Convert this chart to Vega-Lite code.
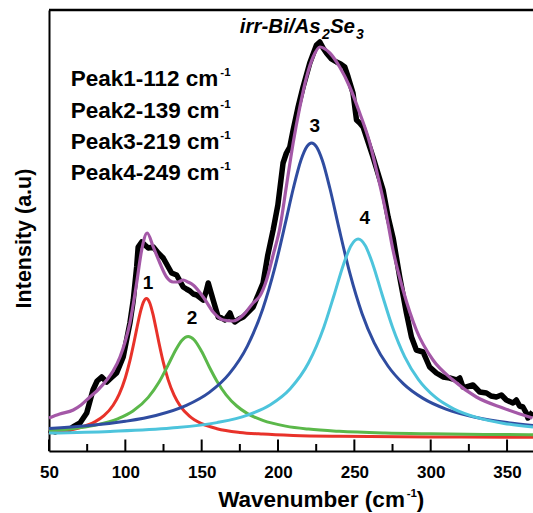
{
  "$schema": "https://vega.github.io/schema/vega-lite/v6.json",
  "width": 484,
  "height": 441,
  "autosize": "none",
  "padding": {"left": 49, "top": 10, "right": 0, "bottom": 62},
  "background": "white",
  "config": {"view": {"stroke": null}, "font": "Liberation Sans"},
  "datasets": {
    "raw": [
      {"x":50,"y":21},{"x":54,"y":19},{"x":58,"y":21},{"x":62,"y":20},{"x":65.7,"y":24},{"x":70.3,"y":28},{"x":74.7,"y":38},{"x":78.8,"y":61},{"x":81.5,"y":70},{"x":84.5,"y":74},{"x":87.8,"y":69},{"x":90.6,"y":73},{"x":94.3,"y":78},{"x":98.6,"y":94},{"x":103,"y":128},{"x":105.2,"y":151},{"x":107.4,"y":184},{"x":108.4,"y":204},{"x":110.7,"y":209},{"x":112.8,"y":206},{"x":115,"y":203},{"x":118.3,"y":204},{"x":121.5,"y":198},{"x":124.8,"y":193},{"x":128.1,"y":184},{"x":130.3,"y":178},{"x":133.6,"y":176},{"x":137.9,"y":164},{"x":140,"y":162},{"x":142.3,"y":160},{"x":144.5,"y":157},{"x":146.7,"y":156},{"x":151,"y":151},{"x":153,"y":160},{"x":154.3,"y":168},{"x":155.8,"y":160},{"x":157.5,"y":151},{"x":160.8,"y":134},{"x":163,"y":133},{"x":165.2,"y":131},{"x":168.5,"y":138},{"x":170,"y":132},{"x":171.7,"y":129},{"x":174.5,"y":132},{"x":177.2,"y":134},{"x":183.7,"y":144},{"x":190.2,"y":168},{"x":193.3,"y":196},{"x":196.8,"y":221},{"x":199.9,"y":246},{"x":203.3,"y":288},{"x":205.5,"y":298},{"x":207.7,"y":304},{"x":209.9,"y":321},{"x":213,"y":343},{"x":216.4,"y":364},{"x":220.8,"y":388},{"x":225.2,"y":406},{"x":227.4,"y":409},{"x":229.5,"y":403},{"x":231.7,"y":398},{"x":235,"y":392},{"x":238.3,"y":389},{"x":241,"y":387},{"x":243.7,"y":384},{"x":245.9,"y":374},{"x":249.1,"y":358},{"x":251.4,"y":331},{"x":253.5,"y":328},{"x":255.7,"y":324},{"x":262.2,"y":294},{"x":268.8,"y":261},{"x":272.1,"y":234},{"x":275.5,"y":212},{"x":279.7,"y":174},{"x":284.1,"y":138},{"x":287.4,"y":114},{"x":290.6,"y":101},{"x":295,"y":99},{"x":299.3,"y":84},{"x":303.7,"y":78},{"x":308.1,"y":74},{"x":312.4,"y":73},{"x":316.8,"y":71},{"x":319,"y":73},{"x":321.1,"y":64},{"x":323.4,"y":64},{"x":327.7,"y":66},{"x":332.1,"y":59},{"x":336.5,"y":58},{"x":339.5,"y":55},{"x":343,"y":54},{"x":346.3,"y":56},{"x":349.5,"y":51},{"x":353.9,"y":48},{"x":356.1,"y":51},{"x":358.2,"y":45},{"x":360.4,"y":44},{"x":362.6,"y":38},{"x":363.7,"y":33},{"x":366.7,"y":39}
    ],
    "fit": [
      {"x":50,"y":33},{"x":57,"y":37},{"x":65.9,"y":41},{"x":71,"y":46},{"x":76.8,"y":54},{"x":82,"y":61},{"x":87.8,"y":71},{"x":92,"y":80},{"x":96.5,"y":94},{"x":100,"y":110},{"x":103,"y":128},{"x":107.4,"y":168},{"x":110.7,"y":201},{"x":114.3,"y":218},{"x":118.3,"y":204},{"x":122.6,"y":188},{"x":127,"y":174},{"x":131.3,"y":169},{"x":134.5,"y":169},{"x":137.9,"y":171},{"x":141,"y":169},{"x":144.4,"y":166},{"x":151,"y":154},{"x":157.5,"y":139},{"x":164.1,"y":131},{"x":170.6,"y":130},{"x":177.2,"y":136},{"x":183.7,"y":148},{"x":188.1,"y":155},{"x":192.5,"y":171},{"x":196.8,"y":196},{"x":201.2,"y":223},{"x":205.6,"y":266},{"x":209.9,"y":308},{"x":214.3,"y":344},{"x":218.7,"y":374},{"x":223,"y":394},{"x":227.4,"y":404},{"x":233.9,"y":398},{"x":240.4,"y":384},{"x":247,"y":364},{"x":253.5,"y":338},{"x":260.1,"y":308},{"x":265.5,"y":274},{"x":271,"y":236},{"x":275.3,"y":201},{"x":281.9,"y":161},{"x":290.6,"y":121},{"x":301.5,"y":91},{"x":314.6,"y":71},{"x":329.9,"y":54},{"x":347.3,"y":43},{"x":366.7,"y":33}
    ],
    "p1": [
      {"x":50,"y":18.2},{"x":60,"y":20.1},{"x":70,"y":23.2},{"x":80,"y":29.1},{"x":86,"y":35.3},{"x":92,"y":45.8},{"x":96,"y":56.9},{"x":100,"y":73.3},{"x":103,"y":90.3},{"x":106,"y":111.2},{"x":108,"y":126.2},{"x":110,"y":139.8},{"x":112,"y":149.4},{"x":113.8,"y":152.5},{"x":116,"y":148},{"x":118,"y":137.3},{"x":120,"y":123.2},{"x":122,"y":108.3},{"x":125,"y":87.8},{"x":128,"y":71.4},{"x":132,"y":55.6},{"x":136,"y":44.9},{"x":142,"y":34.8},{"x":150,"y":27.3},{"x":160,"y":22.3},{"x":175,"y":18.6},{"x":190,"y":16.9},{"x":210,"y":15.6},{"x":240,"y":14.7},{"x":280,"y":14.2},{"x":320,"y":14},{"x":367,"y":13.8}
    ],
    "p2": [
      {"x":50,"y":20.4},{"x":65,"y":22.3},{"x":80,"y":25.7},{"x":95,"y":32.1},{"x":105,"y":39.9},{"x":115,"y":53.6},{"x":122,"y":68.7},{"x":128,"y":85.9},{"x":133,"y":101.1},{"x":137,"y":110.6},{"x":141.2,"y":114.5},{"x":145,"y":111.3},{"x":150,"y":99.4},{"x":155,"y":84},{"x":160,"y":69.8},{"x":166,"y":56.2},{"x":173,"y":45},{"x":180,"y":37.4},{"x":190,"y":30.6},{"x":205,"y":24.9},{"x":220,"y":21.9},{"x":240,"y":19.7},{"x":270,"y":18},{"x":300,"y":17.2},{"x":335,"y":16.6},{"x":367,"y":16.3}
    ],
    "p3": [
      {"x":50,"y":22.6},{"x":75,"y":25.3},{"x":100,"y":29.7},{"x":120,"y":35.5},{"x":140,"y":45.6},{"x":155,"y":58.6},{"x":168,"y":77.1},{"x":180,"y":105.2},{"x":190,"y":142.1},{"x":198,"y":183.9},{"x":205,"y":229.1},{"x":210,"y":262.5},{"x":215,"y":290.8},{"x":219,"y":304.7},{"x":222,"y":308},{"x":225,"y":304.7},{"x":229,"y":290.8},{"x":234,"y":262.5},{"x":240,"y":222.3},{"x":247,"y":178.1},{"x":255,"y":137.6},{"x":263,"y":108.2},{"x":272,"y":85},{"x":282,"y":67.4},{"x":295,"y":52.6},{"x":310,"y":41.9},{"x":330,"y":33.5},{"x":350,"y":28.4},{"x":367,"y":25.5}
    ],
    "p4": [
      {"x":50,"y":18},{"x":90,"y":19.6},{"x":130,"y":22.9},{"x":160,"y":28.4},{"x":180,"y":35.9},{"x":195,"y":46.3},{"x":208,"y":62.3},{"x":220,"y":88.2},{"x":230,"y":123.8},{"x":237,"y":157.3},{"x":243,"y":187.1},{"x":248,"y":205.8},{"x":252.5,"y":212},{"x":257,"y":205.8},{"x":262,"y":187.1},{"x":268,"y":157.3},{"x":275,"y":123.8},{"x":283,"y":94.2},{"x":292,"y":71.4},{"x":303,"y":53.8},{"x":315,"y":42.2},{"x":330,"y":33.6},{"x":348,"y":27.6},{"x":367,"y":24}
    ],
    "ticksmajor": [{"x":50},{"x":100},{"x":150},{"x":200},{"x":250},{"x":300},{"x":350}],
    "ticksminor": [{"x":75},{"x":125},{"x":175},{"x":225},{"x":275},{"x":325}],
    "topframe": [{"x":50,"y":441},{"x":367,"y":441}],
    "peaktext": [
      {"x":64.2,"y":365,"t":"Peak1-112 cm"},
      {"x":64.2,"y":333.3,"t":"Peak2-139 cm"},
      {"x":64.2,"y":301.7,"t":"Peak3-219 cm"},
      {"x":64.2,"y":271,"t":"Peak4-249 cm"}
    ],
    "sup": [
      {"x":162.2,"y":375,"t":"-1"},
      {"x":162.2,"y":343.3,"t":"-1"},
      {"x":162.2,"y":311.7,"t":"-1"},
      {"x":162.2,"y":281,"t":"-1"},
      {"x":284.3,"y":-45.7,"t":"-1"}
    ],
    "xtitle": [
      {"x":160.8,"y":-56.3,"t":"Wavenumber (cm"},
      {"x":290.8,"y":-56.3,"t":")"}
    ],
    "nums": [
      {"x":114.8,"y":168,"t":"1"},
      {"x":143.6,"y":133,"t":"2"},
      {"x":224.1,"y":325,"t":"3"},
      {"x":256.8,"y":233,"t":"4"}
    ],
    "titlemain": [
      {"x":175.0,"y":418,"t":"irr-Bi/As"},
      {"x":234.0,"y":418,"t":"Se"}
    ],
    "titlesub": [
      {"x":228.8,"y":412,"t":"2"},
      {"x":251.1,"y":412,"t":"3"}
    ]
  },
  "layer": [
    {
      "data": {"name": "raw"},
      "mark": {"type": "line", "color": "#000000", "strokeWidth": 5.5, "interpolate": "linear", "strokeJoin": "round"},
      "encoding": {
        "x": {"field": "x", "type": "quantitative",
              "scale": {"domain": [50, 367], "nice": false, "zero": false},
              "axis": {"values": [50,100,150,200,250,300,350], "title": null, "grid": false, "ticks": false,
                       "domainColor": "#000000", "domainWidth": 2, "labelFontSize": 17, "labelFontWeight": "bold",
                       "labelColor": "#000000", "labelPadding": 13, "labelFont": "Liberation Sans", "labelFlush": false}},
        "y": {"field": "y", "type": "quantitative",
              "scale": {"domain": [0, 441], "nice": false, "zero": false},
              "axis": {"title": "Intensity (a.u)", "labels": false, "ticks": false, "grid": false,
                       "domainColor": "#000000", "domainWidth": 2, "titleFontSize": 21.5, "titleFontWeight": "bold",
                       "titleColor": "#000000", "titlePadding": 14, "titleFont": "Liberation Sans", "titleY": 228}}
      }
    },
    {
      "data": {"name": "p1"},
      "mark": {"type": "line", "color": "#e8322a", "strokeWidth": 3, "interpolate": "monotone"},
      "encoding": {"x": {"field": "x", "type": "quantitative"}, "y": {"field": "y", "type": "quantitative"}}
    },
    {
      "data": {"name": "p2"},
      "mark": {"type": "line", "color": "#5bb84a", "strokeWidth": 3, "interpolate": "monotone"},
      "encoding": {"x": {"field": "x", "type": "quantitative"}, "y": {"field": "y", "type": "quantitative"}}
    },
    {
      "data": {"name": "p3"},
      "mark": {"type": "line", "color": "#2f4ca0", "strokeWidth": 3, "interpolate": "monotone"},
      "encoding": {"x": {"field": "x", "type": "quantitative"}, "y": {"field": "y", "type": "quantitative"}}
    },
    {
      "data": {"name": "p4"},
      "mark": {"type": "line", "color": "#4dc4dc", "strokeWidth": 3, "interpolate": "monotone"},
      "encoding": {"x": {"field": "x", "type": "quantitative"}, "y": {"field": "y", "type": "quantitative"}}
    },
    {
      "data": {"name": "fit"},
      "mark": {"type": "line", "color": "#a458a7", "strokeWidth": 3.2, "interpolate": "monotone"},
      "encoding": {"x": {"field": "x", "type": "quantitative"}, "y": {"field": "y", "type": "quantitative"}}
    },
    {
      "data": {"name": "ticksmajor"},
      "mark": {"type": "rule", "color": "#000000", "strokeWidth": 2},
      "encoding": {"x": {"field": "x", "type": "quantitative"}, "y": {"datum": 0}, "y2": {"datum": 11.5}}
    },
    {
      "data": {"name": "ticksminor"},
      "mark": {"type": "rule", "color": "#000000", "strokeWidth": 2},
      "encoding": {"x": {"field": "x", "type": "quantitative"}, "y": {"datum": 0}, "y2": {"datum": 7}}
    },
    {
      "data": {"name": "topframe"},
      "mark": {"type": "line", "color": "#000000", "strokeWidth": 2.5, "clip": false},
      "encoding": {"x": {"field": "x", "type": "quantitative"}, "y": {"field": "y", "type": "quantitative"}}
    },
    {
      "data": {"name": "peaktext"},
      "mark": {"type": "text", "align": "left", "baseline": "alphabetic", "fontSize": 22.5, "fontWeight": "bold", "font": "Liberation Sans", "color": "#000000"},
      "encoding": {"x": {"field": "x", "type": "quantitative"}, "y": {"field": "y", "type": "quantitative"}, "text": {"field": "t"}}
    },
    {
      "data": {"name": "sup"},
      "mark": {"type": "text", "align": "left", "baseline": "alphabetic", "fontSize": 11.5, "fontWeight": "bold", "font": "Liberation Sans", "color": "#000000"},
      "encoding": {"x": {"field": "x", "type": "quantitative"}, "y": {"field": "y", "type": "quantitative"}, "text": {"field": "t"}}
    },
    {
      "data": {"name": "xtitle"},
      "mark": {"type": "text", "align": "left", "baseline": "alphabetic", "fontSize": 22.5, "fontWeight": "bold", "font": "Liberation Sans", "color": "#000000"},
      "encoding": {"x": {"field": "x", "type": "quantitative"}, "y": {"field": "y", "type": "quantitative"}, "text": {"field": "t"}}
    },
    {
      "data": {"name": "nums"},
      "mark": {"type": "text", "align": "center", "baseline": "middle", "fontSize": 19, "fontWeight": "bold", "font": "Liberation Sans", "color": "#000000"},
      "encoding": {"x": {"field": "x", "type": "quantitative"}, "y": {"field": "y", "type": "quantitative"}, "text": {"field": "t"}}
    },
    {
      "data": {"name": "titlemain"},
      "mark": {"type": "text", "align": "left", "baseline": "alphabetic", "fontSize": 20.5, "fontWeight": "bold", "fontStyle": "italic", "font": "Liberation Sans", "color": "#000000"},
      "encoding": {"x": {"field": "x", "type": "quantitative"}, "y": {"field": "y", "type": "quantitative"}, "text": {"field": "t"}}
    },
    {
      "data": {"name": "titlesub"},
      "mark": {"type": "text", "align": "left", "baseline": "alphabetic", "fontSize": 14, "fontWeight": "bold", "fontStyle": "italic", "font": "Liberation Sans", "color": "#000000"},
      "encoding": {"x": {"field": "x", "type": "quantitative"}, "y": {"field": "y", "type": "quantitative"}, "text": {"field": "t"}}
    }
  ]
}
